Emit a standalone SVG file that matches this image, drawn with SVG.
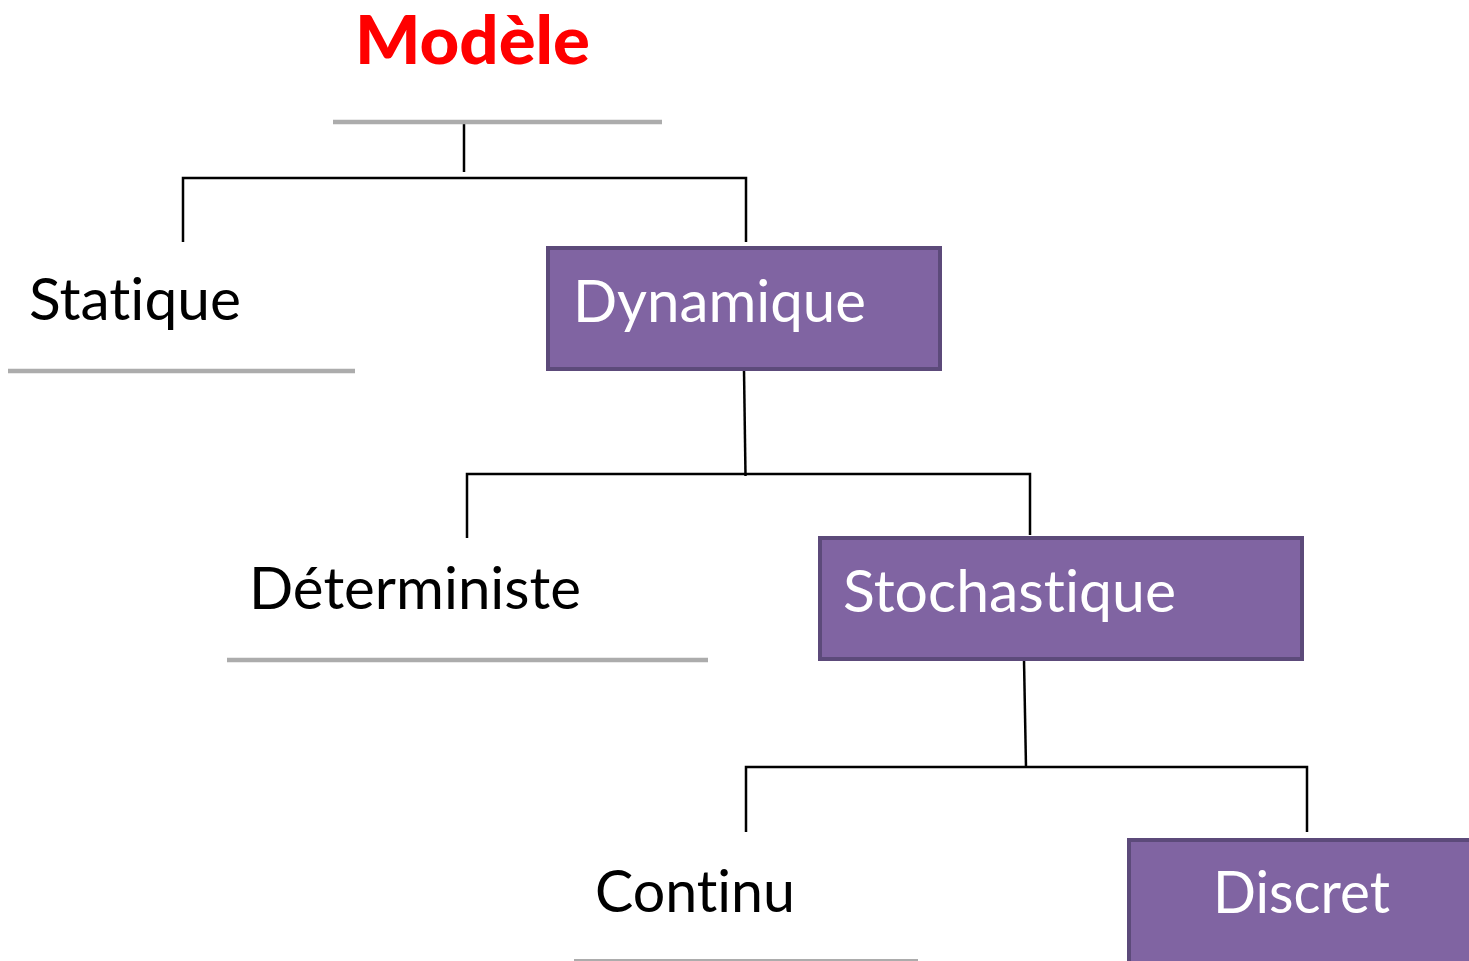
<svg xmlns="http://www.w3.org/2000/svg" width="1469" height="961" viewBox="0 0 1469 961">
  <style>
    text { font-variant-ligatures: none; font-feature-settings: "liga" 0, "dlig" 0; }
    .lbl { font-family: Lato, "Open Sans", "Liberation Sans", sans-serif; font-size: 58px; }
    .dark { fill: #000000; }
    .light { fill: #ffffff; }
    .title { font-family: Lato, "Open Sans", "Liberation Sans", sans-serif; font-size: 66px; font-weight: 900; fill: #ff0000; }
    .box { fill: #8064a2; stroke: #5c4a7a; stroke-width: 4; }
    .rule { stroke: #acacac; stroke-width: 4.5; fill: none; }
    .link { stroke: #000000; stroke-width: 2.5; fill: none; }
  </style>
  <rect width="1469" height="961" fill="#ffffff"/>

  <!-- connectors -->
  <g id="connectors">
    <path class="link" d="M464,123 V172"/>
    <path class="link" d="M183,242 V178 H746 V242"/>
    <path class="link" d="M744,370 L745.5,476"/>
    <path class="link" d="M467,538 V474 H1030 V535"/>
    <path class="link" d="M1024,660 L1026,767"/>
    <path class="link" d="M746,832 V767 H1307 V832"/>
  </g>

  <g id="modele">
    <text class="title" x="355" y="64" textLength="235" lengthAdjust="spacingAndGlyphs">Modèle</text>
    <line class="rule" x1="333" y1="122" x2="662" y2="122"/>
  </g>

  <g id="statique">
    <text class="lbl dark" x="29" y="320" textLength="212" lengthAdjust="spacingAndGlyphs">Statique</text>
    <line class="rule" x1="8" y1="371" x2="355" y2="371"/>
  </g>

  <g id="dynamique">
    <rect class="box" x="548" y="248" width="392" height="121"/>
    <text class="lbl light" x="573" y="322" textLength="293" lengthAdjust="spacingAndGlyphs">Dynamique</text>
  </g>

  <g id="deterministe">
    <text class="lbl dark" x="249" y="609" textLength="332" lengthAdjust="spacingAndGlyphs">Déterministe</text>
    <line class="rule" x1="227" y1="660" x2="708" y2="660"/>
  </g>

  <g id="stochastique">
    <rect class="box" x="820" y="538" width="482" height="121"/>
    <text class="lbl light" x="843" y="612" textLength="333" lengthAdjust="spacingAndGlyphs">Stochastique</text>
  </g>

  <g id="continu">
    <text class="lbl dark" x="595" y="912" textLength="200" lengthAdjust="spacingAndGlyphs">Continu</text>
    <line class="rule" x1="574" y1="960" x2="918" y2="960" style="stroke-width:2"/>
  </g>

  <g id="discret">
    <rect class="box" x="1129" y="840" width="344" height="125"/>
    <text class="lbl light" x="1213" y="913" textLength="177" lengthAdjust="spacingAndGlyphs">Discret</text>
  </g>
</svg>
